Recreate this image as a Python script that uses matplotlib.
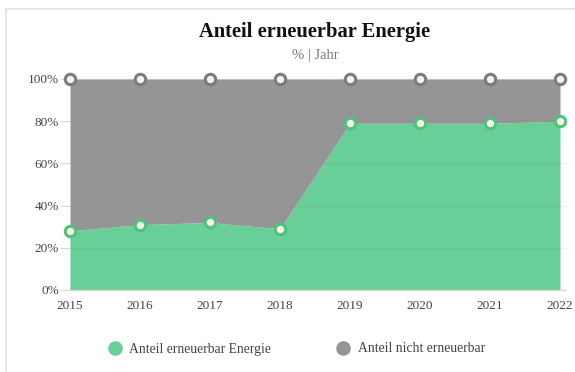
import matplotlib
matplotlib.use("Agg")
import matplotlib.pyplot as plt
from matplotlib.lines import Line2D
from matplotlib.patches import Rectangle
import numpy as np

plt.rcParams['font.family'] = ['Liberation Serif', 'DejaVu Serif']

years = [2015, 2016, 2017, 2018, 2019, 2020, 2021, 2022]
erneuerbar = [28, 31, 32, 29, 79, 79, 79, 80]
nicht_erneuerbar = [100 - v for v in erneuerbar]
y_ticks = [0, 20, 40, 60, 80, 100]
y_tick_labels = ["0%", "20%", "40%", "60%", "80%", "100%"]

title = "Anteil erneuerbar Energie"
subtitle = "% | Jahr"
series_names = ["Anteil erneuerbar Energie", "Anteil nicht erneuerbar"]

green = "#67cf97"
green_edge = "#4cc47f"
grey = "#959595"
grey_edge = "#7c7c7c"
marker_fill = "#fcf1e4"
tick_col = "#e2d8c8"
grid_col = "#8a7a5a"

W, H = 575, 372
fig = plt.figure(figsize=(W / 100, H / 100), dpi=100)
fig.patch.set_facecolor("white")

# outer frame (top and left edges)
fig.add_artist(Rectangle((5 / W, -0.1), 2 / W, 1.1 - 8 / H, transform=fig.transFigure,
                         facecolor="#e6e6e2", edgecolor="none"))
fig.add_artist(Rectangle((5 / W, 1 - 10 / H), 1.1, 2 / H, transform=fig.transFigure,
                         facecolor="#e6e6e2", edgecolor="none"))

x0, x1, yt, yb = 70, 560, 79, 290
ax = fig.add_axes([x0 / W, 1 - yb / H, (x1 - x0) / W, (yb - yt) / H])
ax.set_facecolor("none")

x = np.array(years)
ren = np.array(erneuerbar)
non = np.array(nicht_erneuerbar)
top = ren + non

ax.fill_between(x, 0, ren, color=green, linewidth=0, zorder=1)
ax.fill_between(x, ren, top, color=grey, linewidth=0, zorder=1)

# faint horizontal grid lines over the areas
for t in y_ticks[1:]:
    ax.plot([x[0], x[-1] + 0.08], [t, t], color=grid_col, lw=1, alpha=0.12,
            zorder=2, clip_on=False, solid_capstyle="butt")
ax.plot([x[0], x[-1] + 0.08], [0, 0], color=tick_col, lw=1, zorder=2, clip_on=False,
        solid_capstyle="butt")

ax.plot(x, top, linestyle="none", marker="o", markersize=7.5, markerfacecolor=marker_fill,
        markeredgecolor=grey_edge, markeredgewidth=2.2, zorder=4, clip_on=False)
ax.plot(x, ren, linestyle="none", marker="o", markersize=7.5, markerfacecolor=marker_fill,
        markeredgecolor=green_edge, markeredgewidth=2.2, zorder=4, clip_on=False)

ax.set_xlim(years[0], years[-1])
ax.set_ylim(0, 100)
ax.set_xticks(years)
ax.set_xticklabels([str(y) for y in years])
ax.set_yticks(y_ticks)
ax.set_yticklabels(y_tick_labels)
for s in ax.spines.values():
    s.set_visible(False)
ax.tick_params(axis="y", length=7, color=tick_col, labelsize=9.5, labelcolor="#444444", pad=1)
ax.tick_params(axis="x", length=0, labelsize=9.5, labelcolor="#444444", pad=7)

fig.text((x0 + x1) / 2 / W, 1 - 32 / H, title, ha="center", va="center",
         fontsize=14.8, fontweight="bold", color="#111111")
fig.text((x0 + x1) / 2 / W, 1 - 56 / H, subtitle, ha="center", va="center",
         fontsize=10.5, color="#777777")

handles = [
    Line2D([], [], linestyle="none", marker="o", markersize=10.5, markerfacecolor=green,
           markeredgecolor="none"),
    Line2D([], [], linestyle="none", marker="o", markersize=10.5, markerfacecolor=grey,
           markeredgecolor="none"),
]
leg = fig.legend(handles, series_names, loc="center", bbox_to_anchor=(296 / W, 1 - 349 / H),
                 ncol=2, frameon=False, fontsize=9.8, columnspacing=4.7, handletextpad=0.45,
                 handlelength=1.2)
for t in leg.get_texts():
    t.set_color("#444444")

fig.savefig("out.png", dpi=100)
